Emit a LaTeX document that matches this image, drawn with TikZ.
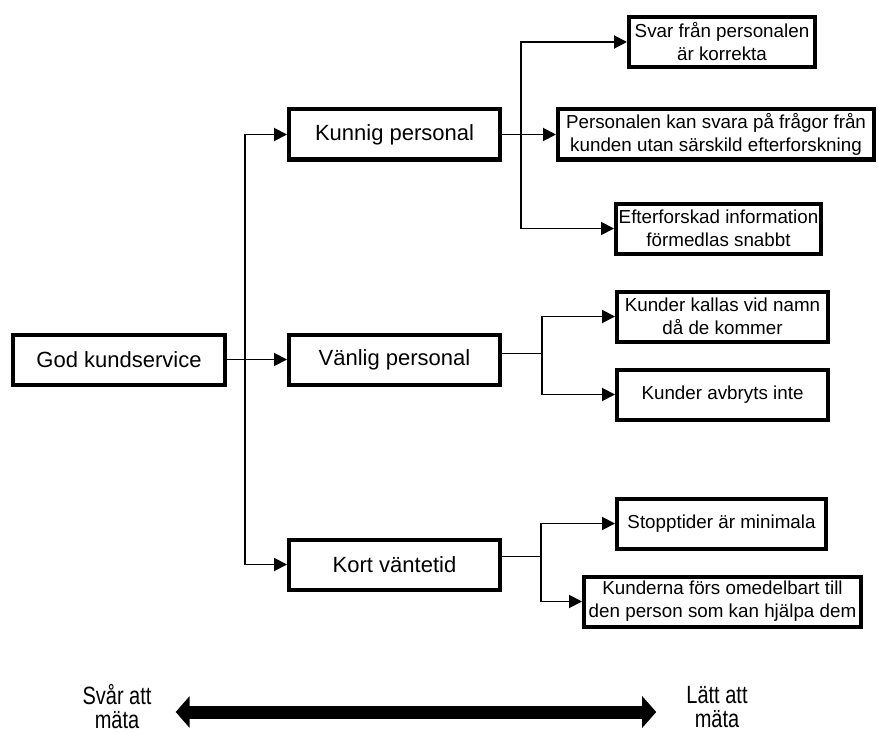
\documentclass[tikz,border=0pt]{standalone}
\usepackage{fontspec}
\setmainfont{Liberation Sans}
\newfontfamily\narrowsans[FakeStretch=0.8]{Liberation Sans}
\usetikzlibrary{arrows.meta,positioning,calc}

\begin{document}
\begin{tikzpicture}[
    x=1pt, y=-1pt,
    node distance=60pt,
    every node/.style={font=\fontsize{22}{24}\selectfont},
    mainbox/.style={
      rectangle, draw=black, line width=4pt, inner sep=0pt,
      minimum width=211pt, minimum height=50pt, align=center
    },
    subbox/.style={
      rectangle, draw=black, line width=4pt, inner sep=0pt,
      minimum height=50pt, align=center,
      font=\fontsize{18.8}{23}\selectfont
    },
    scalelabel/.style={inner sep=0pt, align=center,
      font=\narrowsans\fontsize{25}{24}\selectfont},
    conn/.style={-{Triangle[length=13pt,width=13pt]}, line width=1.9pt},
    link/.style={line width=1.9pt},
    scalearr/.style={{Triangle[length=14pt,width=31pt]}-{Triangle[length=14pt,width=31pt]},
      line width=13pt}
  ]
    \useasboundingbox (0,0) rectangle (878,733);

    % ── Main column ──
    \node[mainbox, minimum width=212pt] (god) at (119,359.5) {God kundservice};
    \node[mainbox, right=60pt of god] (vanlig) {Vänlig personal};
    \node[mainbox, above=171pt of vanlig] (kunnig) {Kunnig personal};
    \node[mainbox, below=151pt of vanlig] (kort) {Kort väntetid};

    \coordinate (trunk) at ([xshift=18pt]god.east);
    \draw[conn] (god.east) -- (vanlig.west);
    \draw[conn] (trunk) |- (kunnig.west);
    \draw[conn] (trunk) |- (kort.west);

    % ── Kunnig personal ──
    \node[subbox, minimum width=186pt] (svar) at (722,42) {Svar från personalen\\är korrekta};
    \node[subbox, minimum width=316pt] (personalen) at (716,134.5)
      {Personalen kan svara på frågor från\\kunden utan särskild efterforskning};
    \node[subbox, minimum width=205pt] (efter) at (718.5,228.5)
      {Efterforskad information\\förmedlas snabbt};

    \coordinate (fork1) at ([xshift=19pt]kunnig.east);
    \draw[conn] (kunnig.east) -- (personalen.west);
    \draw[conn] (fork1) |- (svar.west);
    \draw[conn] (fork1) |- (efter.west);

    % ── Vänlig personal ──
    \node[subbox, minimum width=211pt] (kallas) at (722.5,316.5) {Kunder kallas vid namn\\då de kommer};
    \node[subbox, minimum width=211pt] (avbryts) at (722.5,394.5) {Kunder avbryts inte};

    \draw[link] ([yshift=6pt]vanlig.east) -- ++(40pt,0) coordinate (fork2);
    \draw[conn] (fork2) |- (kallas.west);
    \draw[conn] (fork2) |- (avbryts.west);

    % ── Kort väntetid ──
    \node[subbox, minimum width=209pt] (stopp) at (721.5,523.5) {Stopptider är minimala};
    \node[subbox, minimum width=277pt] (kunderna) at (722.5,601.5)
      {Kunderna förs omedelbart till\\den person som kan hjälpa dem};

    \draw[link] ([yshift=8pt]kort.east) -- ++(39pt,0) coordinate (fork3);
    \draw[conn] (fork3) |- (stopp.west);
    \draw[conn] (fork3) |- (kunderna.west);

    % ── Scale ──
    \node[scalelabel] (hard) at (117,707) {Svår att\\mäta};
    \node[scalelabel] (easy) at (717,707) {Lätt att\\mäta};
    \draw[scalearr] ([xshift=24pt,yshift=-5pt]hard.east) -- ([xshift=-30pt,yshift=-5pt]easy.west);

  \end{tikzpicture}
\end{document}
